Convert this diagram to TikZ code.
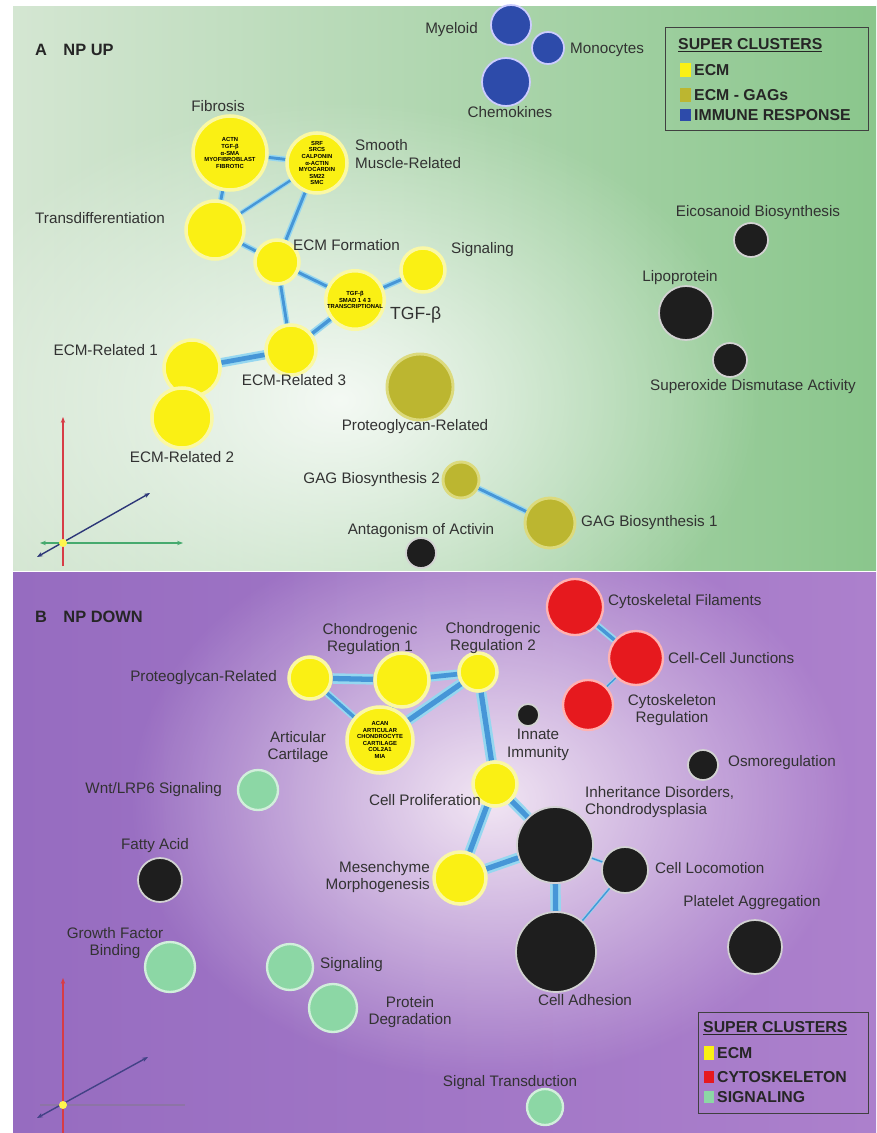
\documentclass[tikz,border=0pt]{standalone}
\usepackage{fontspec}
\setmainfont{Liberation Sans}
\usetikzlibrary{arrows.meta,fadings}
\definecolor{greenL}{RGB}{212,230,210}
\definecolor{greenR}{RGB}{138,198,140}
\definecolor{purpL}{RGB}{150,108,192}
\definecolor{purpR}{RGB}{172,128,204}
\definecolor{purpglow}{RGB}{246,236,246}
\definecolor{ecmyellow}{RGB}{250,240,20}
\definecolor{ecmglow}{RGB}{250,248,165}
\definecolor{gagolive}{RGB}{188,182,48}
\definecolor{gagglow}{RGB}{220,218,125}
\definecolor{immblue}{RGB}{45,75,170}
\definecolor{darknode}{RGB}{30,30,30}
\definecolor{cytored}{RGB}{230,25,30}
\definecolor{siggreen}{RGB}{140,215,165}
\definecolor{linkcore}{RGB}{70,150,215}
\definecolor{linkglow}{RGB}{150,215,240}
\definecolor{labelgray}{RGB}{50,50,50}
\definecolor{axred}{RGB}{215,60,70}
\definecolor{axgreen}{RGB}{70,170,110}
\definecolor{axblue}{RGB}{45,55,120}

\pgfdeclarelayer{bg}
\pgfdeclarelayer{links}
\pgfsetlayers{bg,links,main}

\tikzfading[name=softglow, inner color=transparent!0, outer color=transparent!100]

\newcommand\genes{\fontsize{5}{5.6}\selectfont\bfseries}

\tikzset{
  clu/.style={circle, inner sep=0pt, align=center, font=\genes, minimum size=#1*0.06cm},
  ecmnode/.style={fill=ecmyellow, draw=ecmglow, line width=3pt, text=black},
  gagnode/.style={fill=gagolive, draw=gagglow, line width=2.5pt, text=black},
  immnode/.style={fill=immblue, draw=white!80!blue, line width=1.5pt, text=white},
  darkclu/.style={fill=darknode, draw=white!65!gray, line width=1.5pt, text=white},
  cytonode/.style={fill=cytored, draw=red!30!white, line width=2pt, text=white},
  signode/.style={fill=siggreen, draw=siggreen!40!white, line width=2pt, text=black},
  lbl/.style={font=\fontsize{13}{15}\selectfont, text=labelgray, inner sep=0pt, align=center},
  title/.style={font=\fontsize{14}{16}\selectfont\bfseries, text=black!85, inner sep=0pt},
  legtext/.style={font=\fontsize{13.5}{15}\selectfont\bfseries, text=black!85, inner sep=0pt, anchor=west},
  link/.style={draw=linkcore, line width=#1, preaction={draw=linkglow, line width=#1*2}},
  axis/.style={line width=1.2pt, -{Stealth[length=5pt]}},
}

\begin{document}
\begin{tikzpicture}[x=0.03cm, y=-0.03cm]
\useasboundingbox (0,0) rectangle (876,1133);

% panel backgrounds
\begin{pgfonlayer}{bg}
\fill[white] (0,0) rectangle (876,1133);
\begin{scope}
  \clip (13,7) rectangle (876,570);
  \shade[left color=greenL, right color=greenR] (13,7) rectangle (876,570);
  \fill[white, path fading=softglow, opacity=0.85] (340,400) ellipse (420 and 300);
\end{scope}
\begin{scope}
  \clip (13,572) rectangle (876,1133);
  \shade[left color=purpL, right color=purpR] (13,572) rectangle (876,1133);
  \fill[purpglow, path fading=softglow, opacity=0.95] (490,800) ellipse (360 and 280);
\end{scope}
\end{pgfonlayer}

%% A  NP UP
\node[title, anchor=west] (titleA) at (35,50) {A\quad NP UP};

\node[ecmnode, clu=37] (fib) at (230,153) {ACTN\\TGF-β\\α-SMA\\MYOFIBROBLAST\\FIBROTIC};
\node[ecmnode, clu=30] (smc) at (317,163) {SRF\\SRCS\\CALPONIN\\α-ACTIN\\MYOCARDIN\\SM22\\SMC};
\node[ecmnode, clu=29] (tdiff) at (215,230) {};
\node[ecmnode, clu=22] (ecmf) at (277,262) {};
\node[ecmnode, clu=29] (tgfb) at (355,300) {TGF-β\\SMAD 1 4 3\\TRANSCRIPTIONAL};
\node[ecmnode, clu=22] (sig) at (423,270) {};
\node[ecmnode, clu=25] (ecm3) at (291,350) {};
\node[ecmnode, clu=28] (ecm1) at (192,368) {};
\node[ecmnode, clu=30] (ecm2) at (182,418) {};
\node[gagnode, clu=33] (prot) at (420,387) {};
\node[gagnode, clu=18] (gag2) at (461,480) {};
\node[gagnode, clu=25] (gag1) at (550,523) {};
\node[darkclu, clu=15] (antag) at (421,553) {};
\node[immnode, clu=20] (myel) at (511,25) {};
\node[immnode, clu=16] (mono) at (548,48) {};
\node[immnode, clu=24] (chem) at (506,82) {};
\node[darkclu, clu=17] (eico) at (751,240) {};
\node[darkclu, clu=27] (lipo) at (686,313) {};
\node[darkclu, clu=17] (sod) at (730,360) {};

\node[lbl, anchor=east] at (478,30) {Myeloid};
\node[lbl, anchor=west] at (570,50) {Monocytes};
\node[lbl] at (510,112) {Chemokines};
\node[lbl] at (218,106) {Fibrosis};
\node[lbl, anchor=west, align=left] at (355,154) {Smooth\\Muscle-Related};
\node[lbl, anchor=east] at (165,218) {Transdifferentiation};
\node[lbl, anchor=west] at (293,245) {ECM Formation};
\node[lbl, anchor=west] at (451,250) {Signaling};
\node[lbl, anchor=west, font=\fontsize{15}{16}\selectfont] at (390,315) {TGF-β};
\node[lbl, anchor=east] at (158,350) {ECM-Related 1};
\node[lbl] at (294,380) {ECM-Related 3};
\node[lbl] at (182,457) {ECM-Related 2};
\node[lbl] at (415,427) {Proteoglycan-Related};
\node[lbl, anchor=east] at (440,480) {GAG Biosynthesis 2};
\node[lbl, anchor=west] at (581,523) {GAG Biosynthesis 1};
\node[lbl] at (421,531) {Antagonism of Activin};
\node[lbl] at (758,213) {Eicosanoid Biosynthesis};
\node[lbl] at (680,278) {Lipoprotein};
\node[lbl] at (753,387) {Superoxide Dismutase Activity};

% legend A
\draw[black!75, line width=0.8pt] (665,27) rectangle (868,130);
\node[legtext] at (678,45) {\underline{SUPER CLUSTERS}};
\fill[ecmyellow] (680,63) rectangle (691,77);
\node[legtext] at (694,70) {ECM};
\fill[gagolive] (680,88) rectangle (691,102);
\node[legtext] at (694,95) {ECM - GAGs};
\fill[immblue] (680,109) rectangle (691,121);
\node[legtext] at (694,115) {IMMUNE RESPONSE};

% axes A
\coordinate (oA) at (63,543);
\draw[axis, axred] (63,566) -- (63,417);
\draw[axis, axgreen, {Stealth[length=5pt]}-{Stealth[length=5pt]}] (40,543) -- (183,543);
\draw[axis, axblue, {Stealth[length=5pt]}-{Stealth[length=5pt]}] (37,557) -- (150,493);
\fill[yellow!70!white] (oA) circle (4);

%% B  NP DOWN
\node[title, anchor=west] (titleB) at (35,617) {B\quad NP DOWN};

\node[ecmnode, clu=21] (pgr) at (310,678) {};
\node[ecmnode, clu=27] (cr1) at (402,680) {};
\node[ecmnode, clu=33] (art) at (380,740) {ACAN\\ARTICULAR\\CHONDROCYTE\\CARTILAGE\\COL2A1\\MIA};
\node[ecmnode, clu=19] (cr2) at (478,672) {};
\node[ecmnode, clu=22] (cpro) at (495,784) {};
\node[ecmnode, clu=26] (mes) at (460,878) {};
\node[darkclu, clu=38] (inh) at (555,845) {};
\node[darkclu, clu=40] (cadh) at (556,952) {};
\node[darkclu, clu=23] (cloc) at (625,870) {};
\node[darkclu, clu=11] (innate) at (528,715) {};
\node[darkclu, clu=15] (osmo) at (703,765) {};
\node[darkclu, clu=27] (plat) at (755,947) {};
\node[darkclu, clu=22] (fatty) at (160,880) {};
\node[cytonode, clu=28] (cytf) at (575,607) {};
\node[cytonode, clu=27] (ccj) at (636,658) {};
\node[cytonode, clu=25] (cytr) at (588,705) {};
\node[signode, clu=20] (wnt) at (258,790) {};
\node[signode, clu=25] (gfb) at (170,967) {};
\node[signode, clu=23] (sigb) at (290,967) {};
\node[signode, clu=24] (pdeg) at (333,1008) {};
\node[signode, clu=18] (stra) at (545,1107) {};

\node[lbl] at (370,639) {Chondrogenic\\Regulation 1};
\node[lbl] at (493,638) {Chondrogenic\\Regulation 2};
\node[lbl, anchor=east] at (277,678) {Proteoglycan-Related};
\node[lbl] at (298,747) {Articular\\Cartilage};
\node[lbl, anchor=east] at (222,790) {Wnt/LRP6 Signaling};
\node[lbl, anchor=east] at (481,800) {Cell Proliferation};
\node[lbl] at (538,745) {Innate\\Immunity};
\node[lbl, anchor=west] at (608,602) {Cytoskeletal Filaments};
\node[lbl, anchor=west] at (668,658) {Cell-Cell Junctions};
\node[lbl] at (672,710) {Cytoskeleton\\Regulation};
\node[lbl, anchor=west] at (728,763) {Osmoregulation};
\node[lbl, anchor=west, align=left] at (585,802) {Inheritance Disorders,\\Chondrodysplasia};
\node[lbl] at (155,846) {Fatty Acid};
\node[lbl, align=right, anchor=east] at (430,877) {Mesenchyme\\Morphogenesis};
\node[lbl, anchor=west] at (655,868) {Cell Locomotion};
\node[lbl] at (752,903) {Platelet Aggregation};
\node[lbl] at (115,943) {Growth Factor\\Binding};
\node[lbl, anchor=west] at (320,965) {Signaling};
\node[lbl] at (410,1012) {Protein\\Degradation};
\node[lbl] at (585,1000) {Cell Adhesion};
\node[lbl] at (510,1083) {Signal Transduction};

% legend B
\draw[black!75, line width=0.8pt] (698,1012) rectangle (868,1113);
\node[legtext] at (703,1028) {\underline{SUPER CLUSTERS}};
\fill[ecmyellow] (704,1046) rectangle (714,1060);
\node[legtext] at (717,1053) {ECM};
\fill[cytored] (704,1071) rectangle (714,1083);
\node[legtext] at (717,1077) {CYTOSKELETON};
\fill[siggreen] (704,1091) rectangle (714,1103);
\node[legtext] at (717,1097) {SIGNALING};

% axes B
\coordinate (oB) at (63,1105);
\draw[axis, axred] (63,1133) -- (63,978);
\draw[line width=1.2pt, purpL!60!gray] (40,1105) -- (185,1105);
\draw[axis, axblue!80!purpL, {Stealth[length=5pt]}-{Stealth[length=5pt]}] (37,1118) -- (148,1057);
\fill[yellow!70!white] (oB) circle (4);

% links
\begin{pgfonlayer}{links}
\draw[link=2.5pt] (fib) -- (smc);
\draw[link=2.5pt] (fib) -- (tdiff);
\draw[link=2pt] (tdiff) -- (smc);
\draw[link=2.5pt] (tdiff) -- (ecmf);
\draw[link=2.5pt] (smc) -- (ecmf);
\draw[link=2.5pt] (ecmf) -- (tgfb);
\draw[link=2.5pt] (ecmf) -- (ecm3);
\draw[link=2.5pt] (tgfb) -- (sig);
\draw[link=3pt] (tgfb) -- (ecm3);
\draw[link=4pt] (ecm3) -- (ecm1);
\draw[link=2.5pt] (gag2) -- (gag1);

\draw[link=4.5pt] (pgr) -- (cr1);
\draw[link=3pt] (pgr) -- (art);
\draw[link=3pt] (cr1) -- (art);
\draw[link=4.5pt] (art) -- (cr2);
\draw[link=4pt] (cr1) -- (cr2);
\draw[link=4.5pt] (cr2) -- (cpro);
\draw[link=4.5pt] (cpro) -- (mes);
\draw[link=4.5pt] (cpro) -- (inh);
\draw[link=4.5pt] (mes) -- (inh);
\draw[link=4.5pt] (inh) -- (cadh);
\draw[link=1.2pt] (inh) -- (cloc);
\draw[link=1.2pt] (cloc) -- (cadh);
\draw[link=3pt] (cytf) -- (ccj);
\draw[link=1.2pt] (ccj) -- (cytr);
\end{pgfonlayer}

\end{tikzpicture}
\end{document}
